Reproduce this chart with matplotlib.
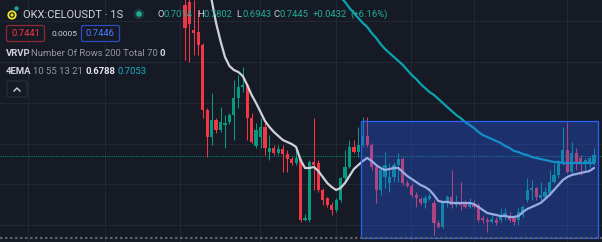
import matplotlib
matplotlib.use("Agg")
import matplotlib.pyplot as plt
from matplotlib.patches import Rectangle, Circle, FancyBboxPatch

# 1-second candles, oldest first
opens = [0.7975, 0.7990, 0.7850, 0.7840, 0.7775, 0.7450, 0.7315, 0.7400, 0.7350, 0.7375,
         0.7390, 0.7425, 0.7510, 0.7565, 0.7575, 0.7410, 0.7270, 0.7315, 0.7365, 0.7240,
         0.7260, 0.7235, 0.7255, 0.7230, 0.7205, 0.7185, 0.7205, 0.6900, 0.6900, 0.7190,
         0.7185, 0.7050, 0.7010, 0.6975, 0.6950, 0.7000, 0.7110, 0.7165, 0.7265, 0.7240,
         0.7275, 0.7320, 0.7275, 0.7165, 0.7050, 0.7115, 0.7085, 0.7115, 0.7175, 0.7205,
         0.7085, 0.7070, 0.7025, 0.7005, 0.6985, 0.7005, 0.6985, 0.6885, 0.6865, 0.6985,
         0.7015, 0.6975, 0.6985, 0.6980, 0.6965, 0.6975, 0.6975, 0.6910, 0.6900, 0.6890,
         0.6900, 0.6900, 0.6920, 0.6915, 0.6910, 0.6900, 0.6925, 0.7000, 0.7050, 0.7060,
         0.7010, 0.7015, 0.7035, 0.7090, 0.7125, 0.7185, 0.7250, 0.7140, 0.7235, 0.7210,
         0.7185, 0.7185, 0.7185]
highs = [0.8050, 0.8050, 0.8000, 0.7950, 0.7785, 0.7460, 0.7535, 0.7410, 0.7465, 0.7425,
         0.7435, 0.7600, 0.7625, 0.7665, 0.7585, 0.7435, 0.7385, 0.7410, 0.7390, 0.7325,
         0.7275, 0.7275, 0.7275, 0.7250, 0.7215, 0.7265, 0.7210, 0.6930, 0.7200, 0.7410,
         0.7200, 0.7060, 0.7015, 0.6990, 0.7010, 0.7115, 0.7250, 0.7300, 0.7300, 0.7365,
         0.7415, 0.7415, 0.7285, 0.7175, 0.7165, 0.7240, 0.7185, 0.7190, 0.7235, 0.7215,
         0.7100, 0.7085, 0.7040, 0.7015, 0.7025, 0.7035, 0.7000, 0.6900, 0.6990, 0.7025,
         0.7150, 0.7025, 0.7090, 0.7000, 0.7010, 0.7000, 0.6985, 0.6925, 0.6915, 0.6935,
         0.6915, 0.6960, 0.6960, 0.6940, 0.6915, 0.6960, 0.6975, 0.7110, 0.7100, 0.7065,
         0.7090, 0.7065, 0.7150, 0.7185, 0.7200, 0.7365, 0.7390, 0.7290, 0.7260, 0.7225,
         0.7210, 0.7215, 0.7260]
lows = [0.7700, 0.7690, 0.7725, 0.7725, 0.7410, 0.7215, 0.7275, 0.7335, 0.7340, 0.7260,
        0.7380, 0.7300, 0.7460, 0.7540, 0.7300, 0.7285, 0.7260, 0.7260, 0.7225, 0.7200,
        0.7225, 0.7225, 0.7140, 0.7140, 0.7175, 0.7175, 0.6890, 0.6895, 0.6890, 0.7050,
        0.7040, 0.6975, 0.6965, 0.6925, 0.6940, 0.6990, 0.7100, 0.7160, 0.7235, 0.7215,
        0.7265, 0.7265, 0.7150, 0.6985, 0.7025, 0.7060, 0.7040, 0.7090, 0.7090, 0.7075,
        0.7065, 0.7015, 0.6965, 0.6975, 0.6960, 0.7000, 0.6825, 0.6860, 0.6860, 0.6965,
        0.6960, 0.6965, 0.6950, 0.6960, 0.6960, 0.6960, 0.6890, 0.6885, 0.6840, 0.6885,
        0.6875, 0.6890, 0.6900, 0.6890, 0.6875, 0.6875, 0.6915, 0.6990, 0.7000, 0.7000,
        0.7000, 0.7010, 0.7025, 0.7085, 0.7110, 0.7175, 0.7135, 0.7135, 0.7150, 0.7125,
        0.7150, 0.7165, 0.7175]
closes = [0.7860, 0.7880, 0.7835, 0.7775, 0.7450, 0.7315, 0.7400, 0.7350, 0.7390, 0.7385,
          0.7425, 0.7510, 0.7565, 0.7575, 0.7410, 0.7290, 0.7350, 0.7365, 0.7260, 0.7260,
          0.7235, 0.7255, 0.7230, 0.7205, 0.7185, 0.7210, 0.6900, 0.6910, 0.7190, 0.7175,
          0.7050, 0.7000, 0.6975, 0.6950, 0.7000, 0.7110, 0.7165, 0.7265, 0.7240, 0.7275,
          0.7320, 0.7275, 0.7165, 0.7050, 0.7150, 0.7175, 0.7115, 0.7175, 0.7205, 0.7085,
          0.7070, 0.7025, 0.7010, 0.6985, 0.7010, 0.7020, 0.6885, 0.6865, 0.6985, 0.7015,
          0.6975, 0.6990, 0.6975, 0.6965, 0.6985, 0.6965, 0.6900, 0.6900, 0.6890, 0.6905,
          0.6885, 0.6925, 0.6935, 0.6900, 0.6890, 0.6940, 0.6965, 0.7050, 0.7060, 0.7015,
          0.7025, 0.7040, 0.7090, 0.7125, 0.7185, 0.7250, 0.7140, 0.7235, 0.7185, 0.7185,
          0.7200, 0.7210, 0.7225]

# EMA lines as they appear on screen (first visible bar index + values)
ema_fast_start = 5
ema_fast = [0.8075, 0.8000, 0.7885, 0.7795, 0.7715, 0.7670, 0.7650, 0.7640, 0.7620, 0.7575,
            0.7525, 0.7485, 0.7440, 0.7395, 0.7365, 0.7340, 0.7320, 0.7300, 0.7290, 0.7280,
            0.7265, 0.7200, 0.7160, 0.7160, 0.7165, 0.7145, 0.7115, 0.7085, 0.7065, 0.7050,
            0.7060, 0.7085, 0.7120, 0.7155, 0.7175, 0.7195, 0.7210, 0.7195, 0.7175, 0.7160,
            0.7150, 0.7155, 0.7160, 0.7160, 0.7140, 0.7120, 0.7105, 0.7090, 0.7075, 0.7065,
            0.7050, 0.7025, 0.6995, 0.6990, 0.6990, 0.6985, 0.6985, 0.6985, 0.6985, 0.6985,
            0.6980, 0.6965, 0.6950, 0.6935, 0.6930, 0.6925, 0.6920, 0.6920, 0.6915, 0.6915,
            0.6920, 0.6940, 0.6955, 0.6965, 0.6975, 0.6985, 0.7005, 0.7025, 0.7050, 0.7075,
            0.7100, 0.7115, 0.7125, 0.7130, 0.7135, 0.7140, 0.7145, 0.7160]
ema_slow_start = 34
ema_slow = [0.8040, 0.8015, 0.7990, 0.7960, 0.7935, 0.7910, 0.7885, 0.7865, 0.7835, 0.7810,
            0.7780, 0.7755, 0.7735, 0.7715, 0.7695, 0.7675, 0.7650, 0.7625, 0.7605, 0.7580,
            0.7560, 0.7540, 0.7525, 0.7505, 0.7485, 0.7465, 0.7445, 0.7425, 0.7410, 0.7390,
            0.7375, 0.7360, 0.7340, 0.7325, 0.7315, 0.7305, 0.7295, 0.7285, 0.7270, 0.7260,
            0.7245, 0.7240, 0.7230, 0.7225, 0.7215, 0.7210, 0.7205, 0.7200, 0.7195, 0.7190,
            0.7190, 0.7185, 0.7185, 0.7185, 0.7185, 0.7185, 0.7185, 0.7185, 0.7185]

grid_prices = [0.7895, 0.7690, 0.7485, 0.7280, 0.7080, 0.6875]
grid_bars = [-35.3, -18.0, -1.1, 16.9, 34.0, 50.8, 65.0, 85.9]
last_price = 0.7220
pane_bottom = 0.6810
# fixed range box (bar range, price range)
range_bars = (39.7, 92.9)
range_prices = (0.6810, 0.7395)

BG = "#161a25"
GRID = "#232734"
UP = "#089981"
DOWN = "#f23645"
TEXT = "#d1d4dc"
MUTED = "#9598a1"

fig = plt.figure(figsize=(6.02, 2.42), dpi=100, facecolor=BG)
ax = fig.add_axes([0, 0, 1, 1])
ax.set_facecolor(BG)
ax.set_xlim(-41.6, 93.8)
ax.set_ylim(0.679, 0.800)
ax.set_axis_off()

for p in grid_prices:
    ax.axhline(p, color=GRID, lw=0.8, zorder=0)
for b in grid_bars:
    ax.axvline(b, color=GRID, lw=0.8, zorder=0)

# candles
bars = list(range(len(opens)))
cols = [UP if c >= o else DOWN for o, c in zip(opens, closes)]
ax.vlines(bars, lows, highs, colors=cols, lw=0.75, zorder=2)
body_lo = [min(o, c) for o, c in zip(opens, closes)]
body_h = [max(abs(c - o), 0.0006) for o, c in zip(opens, closes)]
ax.bar(bars, body_h, bottom=body_lo, width=0.72, color=cols, lw=0, zorder=3)

# EMAs
ax.plot(range(ema_fast_start, ema_fast_start + len(ema_fast)), ema_fast,
        color="#cfd1d8", lw=1.6, zorder=4, solid_capstyle="round")
ax.plot(range(ema_slow_start, ema_slow_start + len(ema_slow)), ema_slow,
        color="#0aa3b0", lw=1.6, zorder=4, solid_capstyle="round")

# last price line and pane separator
ax.axhline(last_price, color=UP, lw=0.8, ls=(0, (1, 1)), alpha=0.8, zorder=1)
ax.axhline(pane_bottom, color="#5d606b", lw=1.5, ls=(0, (1.2, 1.2)), zorder=6)

# range overlay on top of candles
x0, x1 = range_bars
y0, y1 = range_prices
ax.add_patch(Rectangle((x0, y0), x1 - x0, y1 - y0, facecolor="#2962ff", alpha=0.33,
                       edgecolor="none", zorder=5))
ax.add_patch(Rectangle((x0, y0), x1 - x0, y1 - y0, facecolor="none",
                       edgecolor="#2962ff", lw=0.9, zorder=5))

# legend overlay in pixel coordinates
ui = fig.add_axes([0, 0, 1, 1])
ui.set_xlim(0, 602)
ui.set_ylim(242, 0)
ui.set_axis_off()
ui.patch.set_alpha(0)

font = "Roboto"
fs = 6.8
ui.add_patch(Circle((12, 15), 4.6, facecolor="#f0e62a", edgecolor="none"))
ui.add_patch(Circle((12, 15), 2.2, facecolor="none", edgecolor="#20222a", lw=0.9))
ui.add_patch(Circle((16.5, 8.5), 2.6, facecolor="#16a39a", edgecolor=BG, lw=0.6))
ui.text(23, 14.5, "OKX:CELOUSDT · 1S", color=TEXT, fontsize=8.0, family=font,
        va="center", ha="left")
ui.add_patch(Circle((139, 14), 5.2, facecolor="#1d3b3a", edgecolor="none"))
ui.add_patch(Circle((139, 14), 2.8, facecolor="#22ab94", edgecolor="none"))

ohlc = [(157, "O", "0.7014"), (197, "H", "0.7802"), (236, "L", "0.6943"), (273, "C", "0.7445")]
for x, k, v in ohlc:
    ui.text(x, 14.5, k, color=TEXT, fontsize=fs, family=font, va="center", ha="left")
    ui.text(x + 6.3, 14.5, v, color="#22ab94", fontsize=fs, family=font, va="center", ha="left")
ui.text(313, 14.5, "+0.0432", color="#22ab94", fontsize=fs, family=font, va="center")
ui.text(350, 14.5, "(+6.16%)", color="#22ab94", fontsize=fs, family=font, va="center")

ui.add_patch(FancyBboxPatch((6.5, 25.5), 38, 16, boxstyle="round,pad=0,rounding_size=2",
                            facecolor=BG, edgecolor="#8c2a33", lw=0.9))
ui.text(25.5, 34, "0.7441", color="#f23645", fontsize=fs, family=font, ha="center", va="center")
ui.text(51, 34, "0.0005", color=TEXT, fontsize=6.0, family=font, ha="left", va="center")
ui.add_patch(FancyBboxPatch((81.5, 25.5), 38, 16, boxstyle="round,pad=0,rounding_size=2",
                            facecolor=BG, edgecolor="#2a4fc4", lw=0.9))
ui.text(100.5, 34, "0.7446", color="#4a7dff", fontsize=fs, family=font, ha="center", va="center")

ui.text(6, 54, "VRVP", color=TEXT, fontsize=fs, family=font, weight="bold", va="center")
ui.text(31, 54, "Number Of Rows 200 Total 70", color=MUTED, fontsize=fs, family=font, va="center")
ui.text(160, 54, "0", color=TEXT, fontsize=fs, family=font, weight="bold", va="center")

ui.text(6, 71.5, "4EMA", color=TEXT, fontsize=fs, family=font, weight="bold", va="center")
ui.text(33, 71.5, "10 55 13 21", color=MUTED, fontsize=fs, family=font, va="center")
ui.text(86, 71.5, "0.6788", color="#e8e9ed", fontsize=fs, family=font, weight="bold", va="center")
ui.text(118, 71.5, "0.7053", color="#1fa9c0", fontsize=fs, family=font, va="center")

ui.add_patch(FancyBboxPatch((7, 81), 20, 16, boxstyle="round,pad=0,rounding_size=2",
                            facecolor=BG, edgecolor="#2a2e39", lw=0.9))
ui.plot([14, 17, 20], [91, 88, 91], color=TEXT, lw=1.0)

fig.savefig("out.png", dpi=100, facecolor=BG)
